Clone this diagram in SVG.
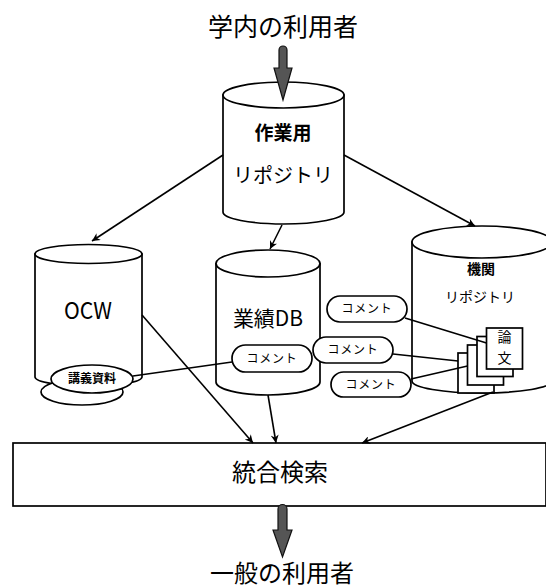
<svg xmlns="http://www.w3.org/2000/svg" width="546" height="588" viewBox="0 0 546 588">
<defs>
<style>
.s{fill:#fff;stroke:#000;stroke-width:1.7}
.l{fill:none;stroke:#000;stroke-width:1.6}
.t{font-family:"Noto Sans CJK JP","Liberation Sans",sans-serif;fill:#000;text-anchor:middle}
.big{font-size:24px}
.c{font-size:12px;letter-spacing:0.8px}
.fat{fill:#555;stroke:#111;stroke-width:1.2}
</style>
<marker id="ah" viewBox="0 0 10 10" refX="10" refY="5" markerWidth="10" markerHeight="8" markerUnits="userSpaceOnUse" orient="auto">
<path d="M0,0 L10,5 L0,10 L3,5 Z" fill="#000"/>
</marker>
</defs>
<rect width="546" height="588" fill="#fff"/>

<g id="users-top">
<text class="t" x="283" y="36" font-size="25">学内の利用者</text>
</g>

<g id="work-repo">
<path class="s" d="M223,95 L223,212 A60.5,12 0 0 0 344,212 L344,95 Z"/>
<ellipse class="s" cx="283.5" cy="95" rx="60.5" ry="13"/>
<text class="t" x="283" y="140" font-size="19" font-weight="bold">作業用</text>
<text class="t" x="283" y="183" font-size="20">リポジトリ</text>
</g>

<g id="ocw">
<path class="s" d="M35,254 L35,377 A53.5,9 0 0 0 142,377 L142,254 Z"/>
<ellipse class="s" cx="88.5" cy="254" rx="53.5" ry="9.5"/>
<text class="t" x="88" y="319" font-size="23" textLength="48" lengthAdjust="spacingAndGlyphs">OCW</text>
</g>

<g id="lecture">
<ellipse class="s" cx="82" cy="392" rx="41" ry="13"/>
<ellipse class="s" cx="92" cy="379" rx="41" ry="14"/>
<text class="t" x="92" y="383" font-size="12" font-weight="bold">講義資料</text>
</g>

<g id="gyoseki-db">
<path class="s" d="M216,263.5 L216,382 A52,13 0 0 0 320,382 L320,263.5 Z"/>
<ellipse class="s" cx="268" cy="263.5" rx="52" ry="13.5"/>
<text class="t" x="268" y="326" font-size="21">業績DB</text>
</g>

<g id="inst-repo">
<path class="s" d="M412,242 L412,381 A70,12 0 0 0 552,381 L552,242 Z"/>
<ellipse class="s" cx="482" cy="242" rx="70" ry="16"/>
<text class="t" x="481" y="274" font-size="14" font-weight="bold">機関</text>
<text class="t" x="480" y="302" font-size="14">リポジトリ</text>
</g>

<g id="papers">
<rect class="s" x="458" y="353" width="36" height="40" stroke-width="1.3"/>
<rect class="s" x="467.5" y="345" width="36" height="40" stroke-width="1.3"/>
<rect class="s" x="477" y="336.5" width="36" height="40" stroke-width="1.3"/>
<rect class="s" x="486.5" y="328" width="36" height="41" stroke-width="1.6"/>
<text class="t" x="504.5" y="342" font-size="14">論</text>
<text class="t" x="504.5" y="363" font-size="14">文</text>
</g>

<g id="search">
<rect class="s" x="13" y="443" width="533" height="63"/>
<text class="t big" x="280" y="481">統合検索</text>
</g>

<g id="users-bottom">
<text class="t" x="282" y="582" font-size="24">一般の利用者</text>
</g>

<g id="connectors">
<line class="l" x1="223" y1="155" x2="92" y2="241" marker-end="url(#ah)"/>
<line class="l" x1="282" y1="225" x2="270" y2="249" marker-end="url(#ah)"/>
<line class="l" x1="344" y1="155" x2="475" y2="226" marker-end="url(#ah)"/>
<line class="l" x1="142" y1="315" x2="253" y2="443" marker-end="url(#ah)"/>
<line class="l" x1="268" y1="395" x2="276" y2="443" marker-end="url(#ah)"/>
<line class="l" x1="493" y1="392" x2="362" y2="443" marker-end="url(#ah)"/>
<line class="l" x1="133" y1="376" x2="232" y2="362"/>
<line class="l" x1="405" y1="318" x2="486.5" y2="343"/>
<line class="l" x1="393" y1="354" x2="458" y2="361"/>
<line class="l" x1="411" y1="379" x2="467.5" y2="366"/>
<path class="fat" d="M279,50 a4,4 0 0 1 8,0 L287,68 L292,68 L283,100 L274,68 L279,68 Z"/>
<path class="fat" d="M278,509 a4.5,4.5 0 0 1 9,0 L287,530 L292,530 L282.5,557 L273,530 L278,530 Z"/>
</g>

<g id="comment-db">
<rect class="s" x="232" y="345" width="80" height="27" rx="13.5"/>
<text class="t c" x="272" y="363">コメント</text>
</g>
<g id="comment-1">
<rect class="s" x="327" y="296" width="80" height="26" rx="13"/>
<text class="t c" x="367" y="313">コメント</text>
</g>
<g id="comment-2">
<rect class="s" x="313" y="337" width="80" height="26" rx="13"/>
<text class="t c" x="353" y="354">コメント</text>
</g>
<g id="comment-3">
<rect class="s" x="331" y="372" width="80" height="25" rx="12.5"/>
<text class="t c" x="371" y="389">コメント</text>
</g>
</svg>
